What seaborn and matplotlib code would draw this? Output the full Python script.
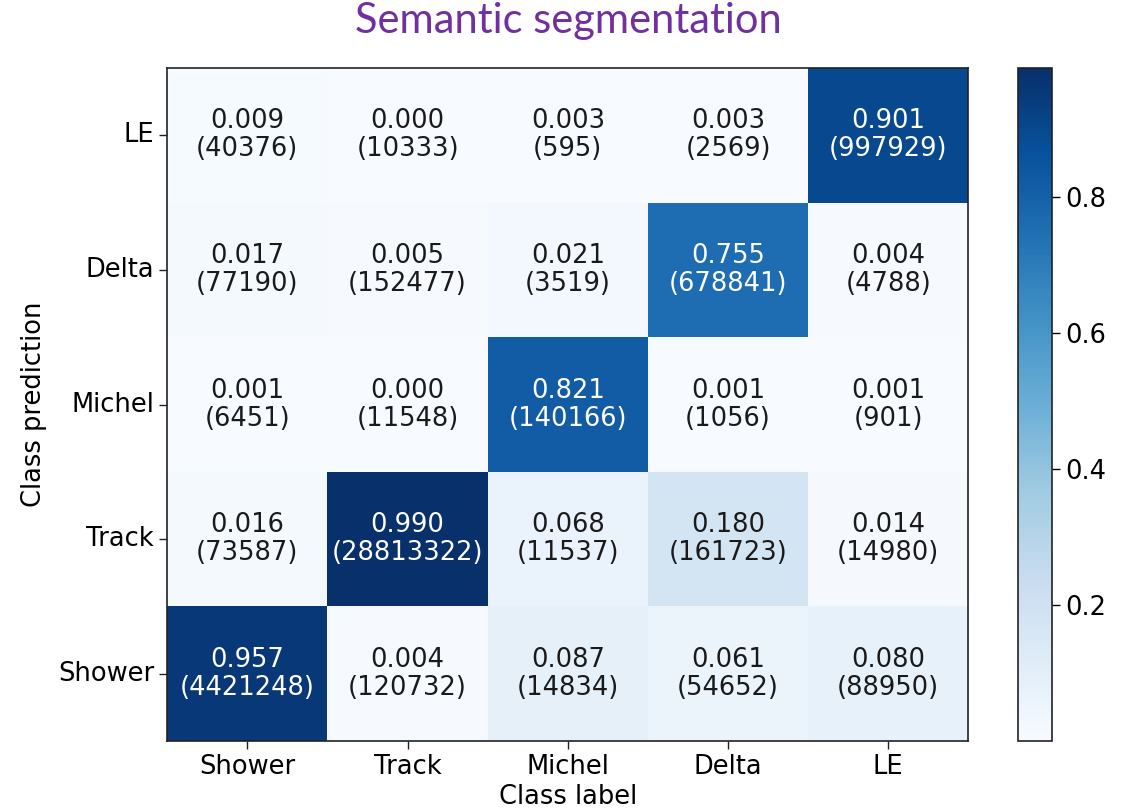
import numpy as np
import pandas as pd
import matplotlib
matplotlib.use("Agg")
import matplotlib.pyplot as plt
import seaborn as sns

classes = ["Shower", "Track", "Michel", "Delta", "LE"]
# rows = class prediction (top to bottom as displayed), cols = class label
pred_rows = ["LE", "Delta", "Michel", "Track", "Shower"]
frac = [
    [0.009, 0.000, 0.003, 0.003, 0.901],
    [0.017, 0.005, 0.021, 0.755, 0.004],
    [0.001, 0.000, 0.821, 0.001, 0.001],
    [0.016, 0.990, 0.068, 0.180, 0.014],
    [0.957, 0.004, 0.087, 0.061, 0.080],
]
counts = [
    [40376, 10333, 595, 2569, 997929],
    [77190, 152477, 3519, 678841, 4788],
    [6451, 11548, 140166, 1056, 901],
    [73587, 28813322, 11537, 161723, 14980],
    [4421248, 120732, 14834, 54652, 88950],
]
cbar_ticks = [0.2, 0.4, 0.6, 0.8]

df = pd.DataFrame(frac, index=pred_rows, columns=classes)
annot = np.array([[f"{f:.3f}\n({c})" for f, c in zip(fr, cr)]
                  for fr, cr in zip(frac, counts)])

fig = plt.figure(figsize=(11.3, 8.09), dpi=100)
ax = fig.add_axes([0.148, 0.084, 0.709, 0.832])
cax = fig.add_axes([0.901, 0.084, 0.030, 0.832])

sns.heatmap(df, ax=ax, cbar_ax=cax, cmap="Blues", vmin=0.0, vmax=0.99,
            annot=annot, fmt="", annot_kws={"fontsize": 18.5, "linespacing": 1.1},
            cbar_kws={"ticks": cbar_ticks})

# text colors: white on dark cells
vals = np.array(frac).ravel()
for t, v in zip(ax.texts, vals):
    t.set_color("white" if v > 0.5 else "#1a1a1a")

for s in ax.spines.values():
    s.set_visible(True)
    s.set_color("#222222")
    s.set_linewidth(1.2)
ax.tick_params(axis="both", length=6, width=1, labelsize=18.5, color="#222222")
ax.set_yticklabels(pred_rows, rotation=0)
ax.set_xticklabels(classes, rotation=0)
ax.set_xlabel("Class label", fontsize=18.5, labelpad=3)
ax.set_ylabel("Class prediction", fontsize=18.5, labelpad=8)

cax.tick_params(labelsize=18.5, length=6, width=1)
cb = ax.collections[0].colorbar
cb.outline.set_visible(True)
cb.outline.set_edgecolor("#222222")
cb.outline.set_linewidth(1.2)
cb.set_ticklabels(["0.2", "0.4", "0.6", "0.8"])

fig.text(0.503, 0.974, "Semantic segmentation", ha="center", va="center",
         fontsize=30, color="#7030A0", family=["Lato", "DejaVu Sans"])

fig.savefig("out.png", dpi=100)
